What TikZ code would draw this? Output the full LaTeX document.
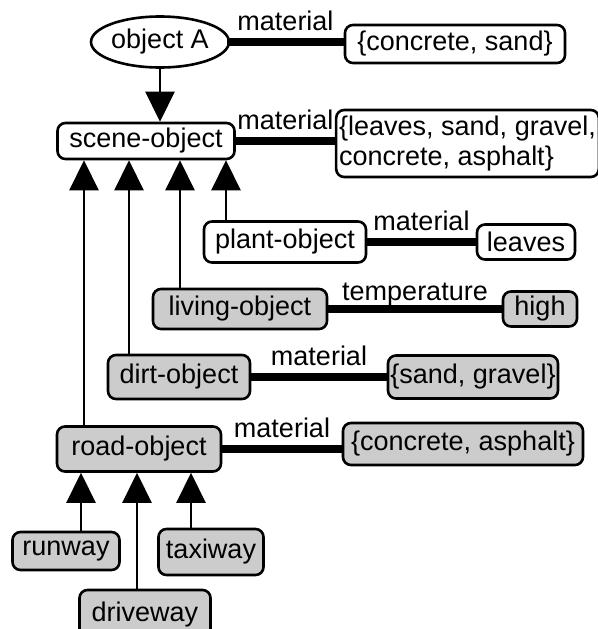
\documentclass[tikz,border=0pt]{standalone}
\usepackage{fontspec}
\setmainfont{Liberation Sans}
\usetikzlibrary{arrows.meta,shapes.geometric}
\tikzset{
  frame/.style={draw, rounded corners=8pt, line width=2.6pt, inner sep=2pt},
  shaded/.style={frame, fill=black!20},
  slot/.style={line width=8pt},
  slotname/.style={anchor=base, yshift=12pt, inner sep=0pt},
  isa/.style={line width=2.6pt, -{Triangle[width=29pt,length=30pt]}}
}
\begin{document}
\begin{tikzpicture}[x=1pt, y=-1pt, font=\fontsize{27}{30}\selectfont]
    \useasboundingbox (0,0) rectangle (597,629);
    % top part
    \node[ellipse, draw, line width=2.6pt, inner sep=0pt, minimum width=126pt, minimum height=51pt] (objA) at (160,42) {object A};
    \node[frame, minimum width=220pt, minimum height=38pt] (concsand) at (455,44) {\{concrete, sand\}};
    \node[frame, minimum width=177pt, minimum height=36pt] (scene) at (146,141) {scene-object};
    \node[frame, minimum width=255pt, minimum height=67pt, align=left, inner xsep=3pt] (matlist) at (467.5,143.5) {\{leaves, sand, gravel,\\concrete, asphalt\}};
    \draw[slot] ([xshift=-3pt]objA.east) -- (objA.east -| concsand.west) node[midway, slotname] {material};
    \draw[isa] (objA.south) -- (scene.north -| objA.south);
    \draw[slot] (scene.east) -- (scene.east -| matlist.west) node[midway, slotname] {material};
    % subclasses of scene-object
    \node[frame, minimum width=162pt, minimum height=41pt] (plant) at (285,242) {plant-object};
    \node[frame, minimum width=98pt, minimum height=35pt] (leaves) at (526,242) {leaves};
    \node[shaded, minimum width=174pt, minimum height=40pt] (living) at (240,309) {living-object};
    \node[shaded, minimum width=74pt, minimum height=35pt] (high) at (540,309) {high};
    \node[shaded, minimum width=142pt, minimum height=44pt] (dirt) at (179,377) {dirt-object};
    \node[shaded, minimum width=170pt, minimum height=43pt] (sandgravel) at (473,377) {\{sand, gravel\}};
    \node[shaded, minimum width=164pt, minimum height=45pt] (road) at (139,449) {road-object};
    \node[shaded, minimum width=240pt, minimum height=42pt] (concasph) at (463,444) {\{concrete, asphalt\}};
    \draw[slot] (plant.east) -- (plant.east -| leaves.west) node[midway, slotname] {material};
    \draw[slot] (living.east) -- (living.east -| high.west) node[midway, slotname, yshift=-3pt] {temperature};
    \draw[slot] (dirt.east) -- (dirt.east -| sandgravel.west) node[midway, slotname] {material};
    \draw[slot] (road.east) -- (road.east -| concasph.west) node[midway, slotname] {material};
    \draw[isa] (plant.north -| 226,0) -- (scene.south -| 226,0);
    \draw[isa] (living.north -| 180,0) -- (scene.south -| 180,0);
    \draw[isa] (dirt.north -| 129,0) -- (scene.south -| 129,0);
    \draw[isa] (road.north -| 84,0) -- (scene.south -| 84,0);
    % subclasses of road-object
    \node[shaded, minimum width=107pt, minimum height=38pt] (runway) at (66,551) {runway};
    \node[shaded, minimum width=105pt, minimum height=46pt] (taxiway) at (211,552) {taxiway};
    \node[shaded, minimum width=131pt, minimum height=50pt] (driveway) at (145,615) {driveway};
    \draw[isa] (runway.north -| 81,0) -- (road.south -| 81,0);
    \draw[isa] (driveway.north -| 137,0) -- (road.south -| 137,0);
    \draw[isa] (taxiway.north -| 191,0) -- (road.south -| 191,0);
\end{tikzpicture}
\end{document}
